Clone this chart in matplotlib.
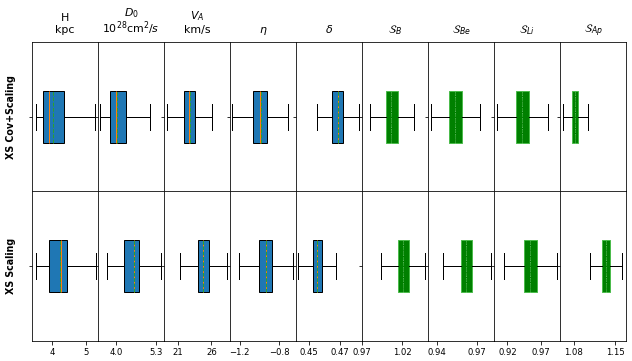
import matplotlib
matplotlib.use("Agg")
import matplotlib.pyplot as plt

# column titles and row labels
titles = ["H\nkpc", "$D_0$\n$10^{28}$cm$^2/s$", "$V_A$\nkm/s", r"$\eta$", r"$\delta$",
          r"$\mathcal{S}_B$", r"$\mathcal{S}_{Be}$", r"$\mathcal{S}_{Li}$", r"$\mathcal{S}_{Ap}$"]
rows = ["XS Cov+Scaling", "XS Scaling"]
n_green = 4  # last four columns are scaling factors

# tick positions and labels per column
xticks = [[4, 5], [4.0, 5.3], [21, 26], [-1.2, -0.8], [0.45, 0.47],
          [0.97, 1.02], [0.94, 0.97], [0.92, 0.97], [1.08, 1.15]]
xticklabels = [["4", "5"], ["4.0", "5.3"], ["21", "26"], ["\u22121.2", "\u22120.8"], ["0.45", "0.47"],
               ["0.97", "1.02"], ["0.94", "0.97"], ["0.92", "0.97"], ["1.08", "1.15"]]
xlims = [(3.398, 5.365), (3.402, 5.547), (18.90, 28.79), (-1.298, -0.633), (0.4418, 0.484),
         (0.9698, 1.052), (0.9335, 0.983), (0.8999, 0.999), (1.0565, 1.168)]

# box statistics, row "XS Cov+Scaling"
cov_whislo = [3.51, 3.48, 19.35, -1.274, 0.455, 0.9795, 0.9357, 0.905, 1.0615]
cov_q1 = [3.715, 3.795, 21.9, -1.062, 0.465, 0.9995, 0.9492, 0.9329, 1.0766]
cov_med = [3.91, 4.0, 22.71, -0.995, 0.4687, 1.0063, 0.954, 0.9425, 1.0824]
cov_mean = [4.03, 4.03, 22.8, -0.99, 0.4685, 1.0065, 0.954, 0.9425, 1.0824]
cov_q3 = [4.344, 4.325, 23.61, -0.921, 0.4721, 1.0141, 0.9587, 0.953, 1.0874]
cov_whishi = [5.27, 5.105, 26.09, -0.716, 0.4821, 1.0341, 0.9723, 0.9816, 1.103]

# box statistics, row "XS Scaling"
sc_whislo = [3.505, 3.686, 21.36, -1.207, 0.4434, 0.9937, 0.945, 0.9155, 1.1064]
sc_q1 = [3.9, 4.26, 24.0, -1.001, 0.4524, 1.0141, 0.958, 0.9445, 1.127]
sc_med = [4.258, 4.562, 24.81, -0.935, 0.4554, 1.0208, 0.9623, 0.9545, 1.1338]
sc_mean = [4.24, 4.56, 24.8, -0.935, 0.4554, 1.0208, 0.9623, 0.9545, 1.1338]
sc_q3 = [4.454, 4.724, 25.71, -0.87, 0.4584, 1.0283, 0.9667, 0.965, 1.1417]
sc_whishi = [5.297, 5.46, 28.3, -0.662, 0.4672, 1.0488, 0.981, 0.995, 1.1618]

row_stats = [
    (cov_whislo, cov_q1, cov_med, cov_mean, cov_q3, cov_whishi),
    (sc_whislo, sc_q1, sc_med, sc_mean, sc_q3, sc_whishi),
]

fig, axes = plt.subplots(2, 9, sharex="col", figsize=(632 / 72, 361 / 72), dpi=72)
fig.subplots_adjust(left=0.0506, right=0.9905, top=0.8837, bottom=0.0554, wspace=0, hspace=0)

ncol = len(titles)
for r in range(2):
    lo, q1, med, mean, q3, hi = row_stats[r]
    for c in range(ncol):
        ax = axes[r, c]
        green = c >= ncol - n_green
        stats = [dict(whislo=lo[c], q1=q1[c], med=med[c], mean=mean[c], q3=q3[c],
                      whishi=hi[c], fliers=[])]
        if green:
            boxprops = dict(facecolor="green", edgecolor="#4cbb4c", linewidth=1)
            medianprops = dict(color="white", linestyle=":", linewidth=1)
            meanprops = dict(color="#2ca02c", linestyle="--", linewidth=1)
        else:
            boxprops = dict(facecolor="#1f77b4", edgecolor="black", linewidth=1)
            medianprops = dict(color="#ff7f0e", linewidth=1)
            meanprops = dict(color="#2ca02c", linestyle="--", linewidth=1)
        ax.bxp(stats, positions=[1], widths=0.35, vert=False, patch_artist=True,
               showmeans=True, meanline=True, showfliers=False,
               boxprops=boxprops, medianprops=medianprops, meanprops=meanprops,
               whiskerprops=dict(color="black", linewidth=1),
               capprops=dict(color="black", linewidth=1))
        ax.set_ylim(0.5, 1.5)
        ax.set_yticks([1])
        ax.set_yticklabels([])
        ax.set_xlim(*xlims[c])
        ax.set_xticks(xticks[c])
        ax.set_xticklabels(xticklabels[c], fontsize=8.5)
        if r == 0:
            ax.set_title(titles[c], fontsize=11, pad=9,
                         linespacing=0.95 if c == 1 else 1.2)
        if c == 0:
            ax.set_ylabel(rows[r], fontsize=9.5, fontweight="bold", labelpad=9)

fig.savefig("out.png", dpi=72)
